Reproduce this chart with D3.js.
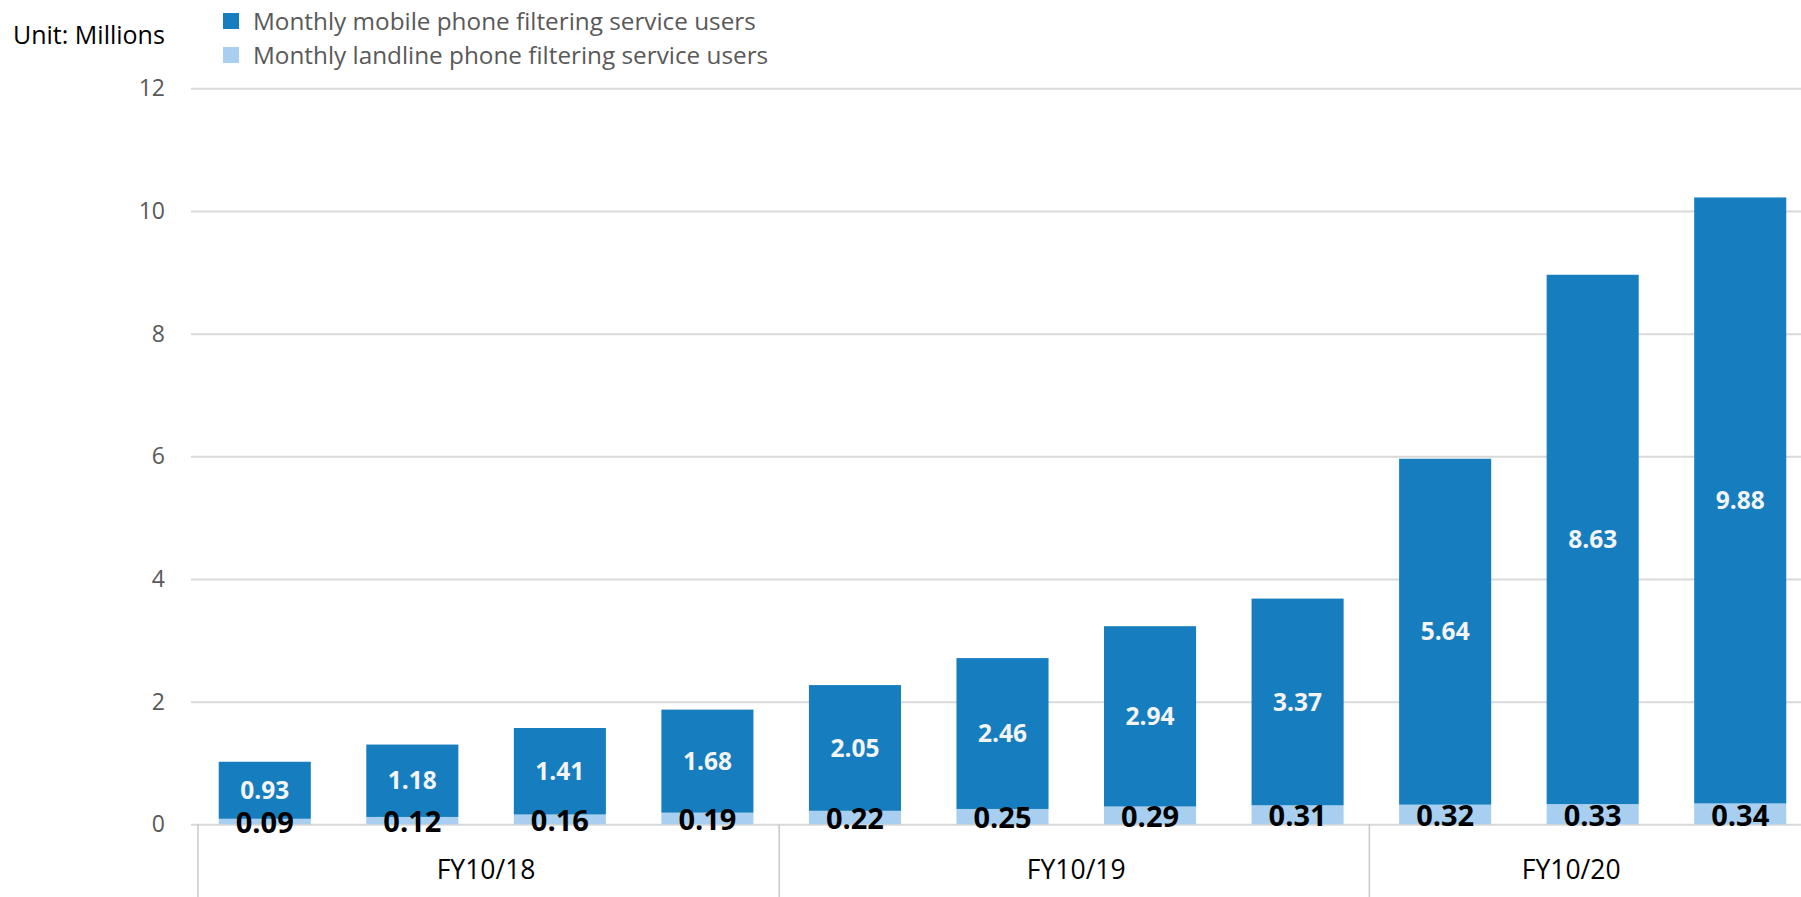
<!DOCTYPE html>
<html>
<head>
<meta charset="utf-8">
<script src="https://cdn.jsdelivr.net/npm/d3@7"></script>
<style>
  html, body { margin: 0; padding: 0; background: #fff; overflow: hidden; }
  svg { display: block; font-family: "Open Sans", "Noto Sans", sans-serif; }
</style>
</head>
<body>
<div id="chart"></div>
<script>
// periods (quarters) and the fiscal year each one belongs to
const periods = ["1Q", "2Q", "3Q", "4Q", "1Q", "2Q", "3Q", "4Q", "1Q", "2Q", "3Q"];
const fiscalYears = ["FY10/18", "FY10/18", "FY10/18", "FY10/18",
                     "FY10/19", "FY10/19", "FY10/19", "FY10/19",
                     "FY10/20", "FY10/20", "FY10/20"];
const groups = ["FY10/18", "FY10/19", "FY10/20"];

const landlineUsers = [0.09, 0.12, 0.16, 0.19, 0.22, 0.25, 0.29, 0.31, 0.32, 0.33, 0.34];
const mobileUsers = [0.93, 1.18, 1.41, 1.68, 2.05, 2.46, 2.94, 3.37, 5.64, 8.63, 9.88];

const yTicks = [0, 2, 4, 6, 8, 10, 12];
const seriesNames = ["Monthly mobile phone filtering service users",
                     "Monthly landline phone filtering service users"];

const width = 1801;
const height = 897;
const colors = { mobile: "#167EBE", landline: "#A8CFEF" };

const svg = d3.select("#chart")
  .append("svg")
  .attr("width", width)
  .attr("height", height);

const data = periods.map((p, i) => ({
  key: i,
  fy: fiscalYears[i],
  landline: landlineUsers[i],
  mobile: mobileUsers[i],
}));

/* the plot area runs a little past the right edge of the picture */
const x = d3.scaleBand()
  .domain(data.map((d) => d.key))
  .range([191, 1814])
  .paddingInner(0.376)
  .paddingOuter(0.188);

const y = d3.scaleLinear()
  .domain([0, 12])
  .range([824.3, 88.3]);

/* gridlines + y labels */
svg.append("g")
  .attr("transform", `translate(${x.range()[0]},0)`)
  .call(d3.axisLeft(y).tickValues(yTicks).tickSize(-(width - x.range()[0])).tickPadding(26))
  .call((g) => g.select(".domain").remove())
  .call((g) => g.selectAll(".tick line").attr("stroke", "#d9d9d9").attr("stroke-width", 2))
  .call((g) => g.selectAll(".tick text")
    .attr("fill", "#595959")
    .style("font-size", "23px")
    .style("font-family", "'Open Sans', sans-serif"));

/* stacked bars */
const stack = d3.stack().keys(["landline", "mobile"]);
const stacked = stack(data);

const layers = svg.append("g")
  .selectAll("g")
  .data(stacked)
  .join("g")
  .attr("fill", (s) => colors[s.key]);

layers.selectAll("rect")
  .data((s) => s)
  .join("rect")
  .attr("x", (d) => x(d.data.key))
  .attr("width", x.bandwidth())
  .attr("y", (d) => y(d[1]))
  .attr("height", (d) => y(d[0]) - y(d[1]));

/* value labels */
const mobileLayer = stacked.find((s) => s.key === "mobile");
svg.append("g")
  .selectAll("text")
  .data(mobileLayer)
  .join("text")
  .attr("x", (d) => x(d.data.key) + x.bandwidth() / 2)
  .attr("y", (d) => y((d[0] + d[1]) / 2))
  .attr("dy", "0.35em")
  .attr("text-anchor", "middle")
  .attr("fill", "#f4f4f4")
  .style("font-size", "24.5px")
  .style("font-weight", 700)
  .text((d) => d.data.mobile.toFixed(2));

const landLayer = stacked.find((s) => s.key === "landline");
svg.append("g")
  .selectAll("text")
  .data(landLayer)
  .join("text")
  .attr("x", (d) => x(d.data.key) + x.bandwidth() / 2)
  .attr("y", (d) => y((d[0] + d[1]) / 2) + 1.5)
  .attr("dy", "0.35em")
  .attr("text-anchor", "middle")
  .attr("fill", "#000")
  .style("font-size", "29px")
  .style("font-weight", 700)
  .text((d) => d.data.landline.toFixed(2));

/* two-level category axis: separators + fiscal year labels */
const axisG = svg.append("g");
const groupSpans = groups.map((g) => {
  const idx = data.filter((d) => d.fy === g).map((d) => d.key);
  const start = x(idx[0]) - x.step() * x.paddingInner() / 2;
  const end = x(idx[idx.length - 1]) + x.bandwidth() + x.step() * x.paddingInner() / 2;
  return { name: g, start, end };
});

const sepXs = groupSpans.map((s, i) => (i === 0 ? s.start + 7 : s.start - 2));
axisG.selectAll("line")
  .data(sepXs)
  .join("line")
  .attr("x1", (d) => d)
  .attr("x2", (d) => d)
  .attr("y1", y(0))
  .attr("y2", height)
  .attr("stroke", "#c8c8c8")
  .attr("stroke-width", 1.5);

axisG.selectAll("text")
  .data(groupSpans)
  .join("text")
  .attr("x", (d) => (d.start + Math.min(d.end, width - 30)) / 2)
  .attr("y", 870)
  .attr("dy", "0.35em")
  .attr("text-anchor", "middle")
  .attr("fill", "#000")
  .style("font-size", "26.5px")
  .text((d) => d.name);

/* unit label */
svg.append("text")
  .attr("x", 13)
  .attr("y", 44)
  .attr("fill", "#000")
  .style("font-size", "25px")
  .text("Unit: Millions");

/* legend */
const legend = svg.append("g")
  .selectAll("g")
  .data(seriesNames)
  .join("g")
  .attr("transform", (d, i) => `translate(223, ${13 + i * 34})`);
legend.append("rect")
  .attr("width", 16)
  .attr("height", 16)
  .attr("fill", (d, i) => (i === 0 ? colors.mobile : colors.landline));
legend.append("text")
  .attr("x", 30)
  .attr("y", 17)
  .attr("fill", "#595959")
  .style("font-size", "24.3px")
  .text((d) => d);
</script>
</body>
</html>
